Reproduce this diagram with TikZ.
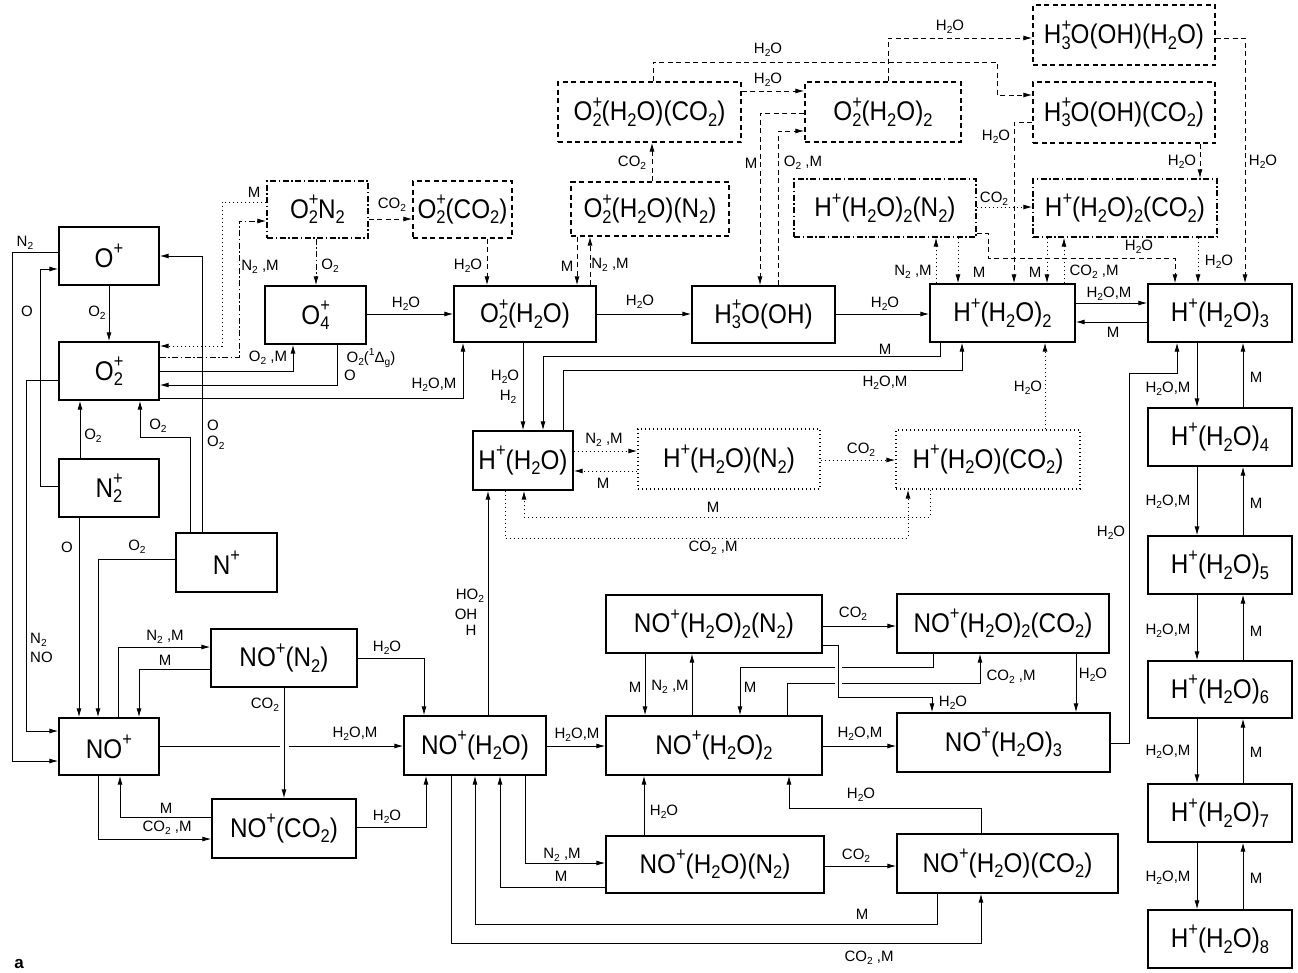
\documentclass[tikz,border=0pt]{standalone}
\usepackage{fontspec}
\setmainfont{Liberation Sans}
\newfontfamily\bxfont[FakeStretch=0.9]{Liberation Sans}
\usetikzlibrary{arrows.meta}
\makeatletter
\newcommand\smallsz{\fontsize{\fpeval{0.68*\f@size}}{\fpeval{0.7*\f@size}}\selectfont}
\makeatother
\newcommand\isub[1]{\raisebox{-0.2em}{\smallsz #1}}
\newcommand\isup[1]{\raisebox{0.48em}{\smallsz #1}}
\newcommand\iss[2]{\rlap{\isup{#1}}\isub{#2}}
\newcommand\BX[7]{%
 \pgfmathsetmacro\cx{(#2+#3)/2}\pgfmathsetmacro\cy{(#4+#5)/2}%
 \pgfmathsetmacro\ww{#3-#2}\pgfmathsetmacro\hh{#5-#4}%
 \node[bx,#6,minimum width=\ww pt,minimum height=\hh pt] (#1) at (\cx,\cy) {#7};}
\begin{document}
\begin{tikzpicture}[x=1pt,y=-1pt,
 bx/.style={draw, line width=1.2pt, inner sep=0pt, font=\bxfont\fontsize{27}{30}\selectfont},
 ln/.style={line width=1pt},
 ar/.style={ln, -{Latex[length=9pt,width=5pt]}},
 dsh/.style={dash pattern=on 5pt off 3.5pt},
 dtt/.style={dash pattern=on 1.3pt off 2.7pt},
 ddt/.style={dash pattern=on 6pt off 2.5pt on 1.5pt off 2.5pt},
 lb/.style={font=\fontsize{15}{16}\selectfont, inner sep=0pt}]
\useasboundingbox[fill=white] (0,0) rectangle (1298,972);

% boxes
\BX{Op}{59}{159}{227}{285}{}{O\isup{+}}
\BX{O2p}{59}{159}{342}{400}{}{O\iss{+}{2}}
\BX{N2p}{59}{159}{459}{517}{}{N\iss{+}{2}}
\BX{Np}{176}{277}{533}{592}{}{N\isup{+}}
\BX{NOp}{59}{159}{718}{775}{}{NO\isup{+}}
\BX{NON}{211}{357}{629}{687}{}{NO\isup{+}(N\isub{2})}
\BX{NOC}{212}{356}{799}{858}{}{NO\isup{+}(CO\isub{2})}
\BX{OON}{267}{368}{181}{238}{ddt}{O\iss{+}{2}N\isub{2}}
\BX{OOC}{413}{512}{181}{238}{dsh}{O\iss{+}{2}(CO\isub{2})}
\BX{O4}{265}{366}{286}{344}{}{O\iss{+}{4}}
\BX{OW}{454}{596}{286}{342}{}{O\iss{+}{2}(H\isub{2}O)}
\BX{OWN}{571}{729}{182}{236}{dsh}{O\iss{+}{2}(H\isub{2}O)(N\isub{2})}
\BX{OWC}{558}{741}{82}{142}{dsh}{O\iss{+}{2}(H\isub{2}O)(CO\isub{2})}
\BX{OWW}{805}{961}{82}{142}{dsh}{O\iss{+}{2}(H\isub{2}O)\isub{2}}
\BX{HOW}{1033}{1215}{5}{65}{dsh}{H\iss{+}{3}O(OH)(H\isub{2}O)}
\BX{HOC}{1033}{1215}{82}{143}{dsh}{H\iss{+}{3}O(OH)(CO\isub{2})}
\BX{H2N}{794}{976}{179}{237}{ddt}{H\isup{+}(H\isub{2}O)\isub{2}(N\isub{2})}
\BX{H2C}{1033}{1217}{179}{237}{ddt}{H\isup{+}(H\isub{2}O)\isub{2}(CO\isub{2})}
\BX{HO}{692}{835}{286}{343}{}{H\iss{+}{3}O(OH)}
\BX{H2}{930}{1075}{284}{342}{}{H\isup{+}(H\isub{2}O)\isub{2}}
\BX{H3}{1148}{1292}{284}{342}{}{H\isup{+}(H\isub{2}O)\isub{3}}
\BX{H4}{1148}{1292}{408}{466}{}{H\isup{+}(H\isub{2}O)\isub{4}}
\BX{H5}{1148}{1292}{536}{594}{}{H\isup{+}(H\isub{2}O)\isub{5}}
\BX{H6}{1148}{1292}{661}{718}{}{H\isup{+}(H\isub{2}O)\isub{6}}
\BX{H7}{1148}{1292}{784}{842}{}{H\isup{+}(H\isub{2}O)\isub{7}}
\BX{H8}{1148}{1292}{910}{968}{}{H\isup{+}(H\isub{2}O)\isub{8}}
\BX{H1}{473}{573}{431}{490}{}{H\isup{+}(H\isub{2}O)}
\BX{H1N}{638}{820}{429}{489}{dtt}{H\isup{+}(H\isub{2}O)(N\isub{2})}
\BX{H1C}{896}{1080}{430}{489}{dtt}{H\isup{+}(H\isub{2}O)(CO\isub{2})}
\BX{N1}{404}{546}{716}{775}{}{NO\isup{+}(H\isub{2}O)}
\BX{N2N}{606}{822}{595}{653}{}{NO\isup{+}(H\isub{2}O)\isub{2}(N\isub{2})}
\BX{N2}{606}{822}{716}{775}{}{NO\isup{+}(H\isub{2}O)\isub{2}}
\BX{N2C}{897}{1109}{594}{653}{}{NO\isup{+}(H\isub{2}O)\isub{2}(CO\isub{2})}
\BX{N3}{897}{1110}{713}{772}{}{NO\isup{+}(H\isub{2}O)\isub{3}}
\BX{N1N}{606}{824}{836}{893}{}{NO\isup{+}(H\isub{2}O)(N\isub{2})}
\BX{N1C}{897}{1118}{834}{893}{}{NO\isup{+}(H\isub{2}O)(CO\isub{2})}

% left part
\draw[ar] (Op.west |- 0,252) -| (12,761) -- (NOp.west |- 0,761);
\draw[ar] (N2p.west |- 0,486) -| (40,269) -- (Op.west |- 0,269);
\draw[ar] (O2p.west |- 0,380) -| (26,731) -- (NOp.west |- 0,731);
\draw[ar] (Op.south) -- (O2p.north);
\draw[ar] (N2p.north -| 80,0) -- (O2p.south -| 80,0);
\draw[ar] (Np.north -| 190,0) |- (140,437) -- (O2p.south -| 140,0);
\draw[ar] (Np.north -| 202,0) |- (Op.east |- 0,256);
\draw[ar] (N2p.south -| 79,0) -- (NOp.north -| 79,0);
\draw[ar] (Np.west |- 0,559) -| (NOp.north -| 98,0);
\draw[ar] (NOp.north -| 118,0) |- (NON.west |- 0,647);
\draw[ar] (NON.west |- 0,669) -| (NOp.north -| 139,0);
\draw[ln] (NOp.east |- 0,746) -- (280,746);
\draw[ar] (289,746) -- (N1.west |- 0,746);
\draw[ar] (NON.south -| 284,0) -- (NOC.north -| 284,0);
\draw[ar] (NOC.west |- 0,817) -| (NOp.south -| 120,0);
\draw[ar] (NOp.south -| 98,0) |- (NOC.west |- 0,839);
\draw[ar] (NON.east |- 0,658) -| (N1.north -| 424,0);
\draw[ar] (NOC.east |- 0,827) -| (N1.south -| 426,0);

% O2 area
\draw[ar,dtt] (OON.west |- 0,202) -| (222,346) -- (O2p.east |- 0,346);
\draw[ar,ddt] (O2p.east |- 0,357) -| (239,221) -- (OON.west |- 0,221);
\draw[ar] (O2p.east |- 0,371) -| (O4.south -| 293,0);
\draw[ar] (O4.south -| 337,0) |- (O2p.east |- 0,385);
\draw[ar] (O2p.east |- 0,398) -| (OW.south -| 463,0);
\draw[ar,ddt] (OON.south -| 316,0) -- (O4.north -| 316,0);
\draw[ar,dsh] (OON.east |- 0,219) -- (OOC.west |- 0,219);
\draw[ar,dsh] (OOC.south -| 487,0) -- (OW.north -| 487,0);
\draw[ar] (O4.east |- 0,314) -- (OW.west |- 0,314);
\draw[ar,dsh] (OWN.south -| 577,0) -- (OW.north -| 577,0);
\draw[ar,dsh] (OW.north -| 590,0) -- (OWN.south -| 590,0);
\draw[ar,dsh] (OWN.north -| 652,0) -- (OWC.south -| 652,0);
\draw[ar] (OW.east |- 0,314) -- (HO.west |- 0,314);
\draw[ar] (OW.south -| 523,0) -- (H1.north -| 523,0);
\draw[ar] (H2.south -| 940,0) |- (543,356) -- (H1.north -| 543,0);
\draw[ar] (H1.north -| 563,0) |- (962,370) -- (H2.south -| 962,0);
\draw[ar] (HO.east |- 0,314) -- (H2.west |- 0,314);
\draw[ar,dsh] (OWW.west |- 0,113) -| (HO.north -| 760,0);
\draw[ar,dsh] (HO.north -| 778,0) |- (OWW.west |- 0,131);
\draw[ar,dsh] (OWC.east |- 0,91) -- (OWW.west |- 0,91);
\draw[ar,dsh] (OWC.north -| 653,0) |- (997,62) |- (HOC.west |- 0,95);
\draw[ar,dsh] (OWW.north -| 888,0) |- (HOW.west |- 0,38);
\draw[ar,dsh] (HOW.east |- 0,38) -| (H3.north -| 1245,0);
\draw[ar,dsh] (HOC.south -| 1200,0) -- (H2C.north -| 1200,0);
\draw[ar,dsh] (HOC.west |- 0,122) -| (H2.north -| 1014,0);
\draw[ar,dtt] (H2N.east |- 0,207) -- (H2C.west |- 0,207);
\draw[ar,dtt] (H2.north -| 936,0) -- (H2N.south -| 936,0);
\draw[ar,dtt] (H2N.south -| 958,0) -- (H2.north -| 958,0);
\draw[ar,dsh] (H2N.east |- 0,233) -| (988,258) -| (H3.north -| 1175,0);
\draw[ar,dtt] (H2C.south -| 1047,0) -- (H2.north -| 1047,0);
\draw[ar,dtt] (H2.north -| 1064,0) -- (H2C.south -| 1064,0);
\draw[ar,dtt] (H2C.south -| 1198,0) -- (H3.north -| 1198,0);
\draw[ar] (H2.east |- 0,303) -- (H3.west |- 0,303);
\draw[ar] (H3.west |- 0,322) -- (H2.east |- 0,322);
\foreach \a/\b in {H3/H4,H4/H5,H5/H6,H6/H7,H7/H8}{
 \draw[ar] (\a.south -| 1197,0) -- (\b.north -| 1197,0);
 \draw[ar] (\b.north -| 1243,0) -- (\a.south -| 1243,0);}

% H+(H2O) region
\draw[ar,dtt] (H1.east |- 0,451) -- (H1N.west |- 0,451);
\draw[ar,dtt] (H1N.west |- 0,471) -- (H1.east |- 0,471);
\draw[ar,dtt] (H1N.east |- 0,460) -- (H1C.west |- 0,460);
\draw[ar,dtt] (H1C.south -| 930,0) |- (524,517) -- (H1.south -| 524,0);
\draw[ar,dtt] (H1.south -| 505,0) |- (908,538) -- (H1C.south -| 908,0);
\draw[ar,dtt] (H1C.north -| 1045,0) -- (H2.south -| 1045,0);
\draw[ar] (N1.north -| 488,0) -- (H1.south -| 488,0);

% bottom
\draw[ar] (N1.east |- 0,746) -- (N2.west |- 0,746);
\draw[ar] (N2.east |- 0,746) -- (N3.west |- 0,746);
\draw[ar] (N2N.south -| 645,0) -- (N2.north -| 645,0);
\draw[ar] (N2.north -| 692,0) -- (N2N.south -| 692,0);
\draw[ar] (N2N.east |- 0,626) -- (N2C.west |- 0,626);
\draw[ar] (N2C.south -| 933,0) |- (740,667) -- (N2.north -| 740,0);
\draw[ar] (N2.north -| 787,0) |- (980,683) -- (N2C.south -| 980,0);
\draw[white, line width=7pt] (838,661) -- (838,689);
\draw[ar] (N2N.east |- 0,645) -| (838,697) -| (N3.north -| 932,0);
\draw[ar] (N2C.south -| 1076,0) -- (N3.north -| 1076,0);
\draw[ar] (N1N.north -| 644,0) -- (N2.south -| 644,0);
\draw[ar] (N1C.north -| 981,0) |- (789,808) -- (N2.south -| 789,0);
\draw[ar] (N1N.east |- 0,866) -- (N1C.west |- 0,866);
\draw[ar] (N1.south -| 525,0) |- (N1N.west |- 0,863);
\draw[ar] (N1N.west |- 0,887) -| (N1.south -| 500,0);
\draw[ar] (N1C.south -| 937,0) |- (475,924) -- (N1.south -| 475,0);
\draw[ar] (N1.south -| 451,0) |- (981,943) -- (N1C.south -| 981,0);
\draw[ar] (N3.east |- 0,743) -| (1129,373) -| (H3.south -| 1177,0);

% labels
\node[lb] (l1) at (25,243) {N\isub{2}};
\node[lb] (l2) at (27,311) {O};
\node[lb,anchor=west] (l3) at (30,640) {N\isub{2}};
\node[lb,anchor=west] (l4) at (30,657) {NO};
\node[lb] (l5) at (97,313) {O\isub{2}};
\node[lb] (l6) at (93,436) {O\isub{2}};
\node[lb] (l7) at (158,426) {O\isub{2}};
\node[lb,anchor=west] (l8) at (207,425) {O};
\node[lb,anchor=west] (l9) at (207,443) {O\isub{2}};
\node[lb] (l10) at (67,547) {O};
\node[lb] (l11) at (137,547) {O\isub{2}};
\node[lb] (l12) at (165,637) {N\isub{2} ,M};
\node[lb] (l13) at (165,660) {M};
\node[lb] (l14) at (265,705) {CO\isub{2}};
\node[lb] (l15) at (355,734) {H\isub{2}O,M};
\node[lb] (l16) at (166,808) {M};
\node[lb] (l17) at (167,828) {CO\isub{2} ,M};
\node[lb] (l18) at (387,648) {H\isub{2}O};
\node[lb] (l19) at (387,817) {H\isub{2}O};
\node[lb] (l20) at (254,192) {M};
\node[lb] (l21) at (260,267) {N\isub{2} ,M};
\node[lb] (l22) at (268,358) {O\isub{2} ,M};
\node[lb] (l23) at (371,358) {O\isub{2}(\isup{1}Δ\isub{g})};
\node[lb] (l24) at (350,375) {O};
\node[lb] (l25) at (434,385) {H\isub{2}O,M};
\node[lb] (l26) at (330,266) {O\isub{2}};
\node[lb] (l27) at (392,205) {CO\isub{2}};
\node[lb] (l28) at (468,266) {H\isub{2}O};
\node[lb] (l29) at (406,304) {H\isub{2}O};
\node[lb] (l30) at (567,266) {M};
\node[lb] (l31) at (610,265) {N\isub{2} ,M};
\node[lb] (l32) at (632,163) {CO\isub{2}};
\node[lb] (l33) at (640,302) {H\isub{2}O};
\node[lb] (l34) at (505,377) {H\isub{2}O};
\node[lb] (l35) at (508,397) {H\isub{2}};
\node[lb] (l36) at (885,349) {M};
\node[lb] (l37) at (885,383) {H\isub{2}O,M};
\node[lb] (l38) at (885,304) {H\isub{2}O};
\node[lb] (l39) at (751,163) {M};
\node[lb] (l40) at (803,163) {O\isub{2} ,M};
\node[lb] (l41) at (768,80) {H\isub{2}O};
\node[lb] (l42) at (768,50) {H\isub{2}O};
\node[lb] (l43) at (950,27) {H\isub{2}O};
\node[lb] (l44) at (1263,162) {H\isub{2}O};
\node[lb] (l45) at (1182,162) {H\isub{2}O};
\node[lb] (l46) at (996,137) {H\isub{2}O};
\node[lb] (l47) at (994,199) {CO\isub{2}};
\node[lb] (l48) at (913,272) {N\isub{2} ,M};
\node[lb] (l49) at (979,272) {M};
\node[lb] (l50) at (1139,247) {H\isub{2}O};
\node[lb] (l51) at (1035,272) {M};
\node[lb] (l52) at (1094,272) {CO\isub{2} ,M};
\node[lb] (l53) at (1219,262) {H\isub{2}O};
\node[lb] (l54) at (1109,294) {H\isub{2}O,M};
\node[lb] (l55) at (1113,332) {M};
\foreach \y/\z [count=\i] in {389/377,502/503,631/631,752/752,878/878}{
 \node[lb] (cw\i) at (1168,\y) {H\isub{2}O,M};
 \node[lb] (cm\i) at (1256,\z) {M};}
\node[lb] (l56) at (604,440) {N\isub{2} ,M};
\node[lb] (l57) at (603,483) {M};
\node[lb] (l58) at (861,450) {CO\isub{2}};
\node[lb] (l59) at (713,507) {M};
\node[lb] (l60) at (713,548) {CO\isub{2} ,M};
\node[lb] (l61) at (1028,388) {H\isub{2}O};
\node[lb] (l62) at (470,596) {HO\isub{2}};
\node[lb] (l63) at (466,614) {OH};
\node[lb] (l64) at (471,630) {H};
\node[lb] (l65) at (577,735) {H\isub{2}O,M};
\node[lb] (l66) at (860,734) {H\isub{2}O,M};
\node[lb] (l67) at (635,687) {M};
\node[lb] (l68) at (670,687) {N\isub{2} ,M};
\node[lb] (l69) at (853,614) {CO\isub{2}};
\node[lb] (l70) at (750,687) {M};
\node[lb] (l71) at (1011,677) {CO\isub{2} ,M};
\node[lb] (l72) at (953,703) {H\isub{2}O};
\node[lb] (l73) at (1093,675) {H\isub{2}O};
\node[lb] (l74) at (664,812) {H\isub{2}O};
\node[lb] (l75) at (861,795) {H\isub{2}O};
\node[lb] (l76) at (856,856) {CO\isub{2}};
\node[lb] (l77) at (562,855) {N\isub{2} ,M};
\node[lb] (l78) at (561,876) {M};
\node[lb] (l79) at (862,914) {M};
\node[lb] (l80) at (869,958) {CO\isub{2} ,M};
\node[lb] (l81) at (1111,533) {H\isub{2}O};
\node[font=\bfseries\fontsize{17}{18}\selectfont, inner sep=0pt] (lab) at (19,964) {a};
\end{tikzpicture}
\end{document}
